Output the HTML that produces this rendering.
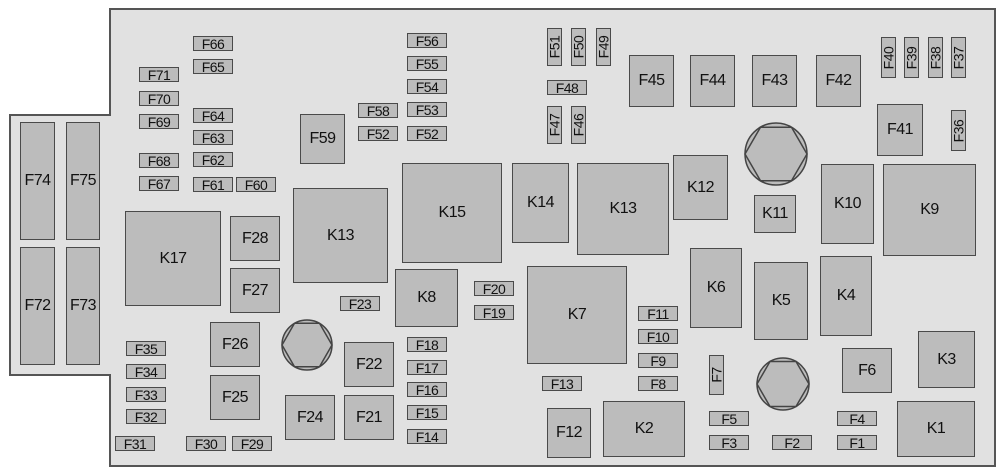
<!DOCTYPE html>
<html><head><meta charset="utf-8"><style>
body{margin:0;width:1000px;height:472px;background:#fff;position:relative;overflow:hidden;font-family:"Liberation Sans",sans-serif}
.p{position:absolute;background:#e1e1e1;border:2px solid #555;box-sizing:border-box}
.b{position:absolute;background:#bcbcbc;border:1.5px solid #4a4a4a;box-sizing:border-box;display:flex;align-items:center;justify-content:center;font-size:16px;color:#111;letter-spacing:-0.5px}
.s{font-size:14px}
.v span{transform:rotate(-90deg);display:block;white-space:nowrap}
svg{position:absolute;left:0;top:0}
</style></head><body>
<div class="p" style="left:9px;top:114px;width:103px;height:262px"></div>
<div class="p" style="left:109px;top:8px;width:887px;height:459px"></div>
<div style="position:absolute;left:109px;top:116px;width:4px;height:258px;background:#e1e1e1"></div>

<div class="b" style="left:20px;top:122px;width:35px;height:118px">F74</div>
<div class="b" style="left:66px;top:122px;width:34px;height:118px">F75</div>
<div class="b" style="left:20px;top:247px;width:35px;height:118px">F72</div>
<div class="b" style="left:66px;top:247px;width:34px;height:118px">F73</div>

<div class="b s" style="left:193px;top:36px;width:40px;height:15px">F66</div>
<div class="b s" style="left:193px;top:59px;width:40px;height:15px">F65</div>
<div class="b s" style="left:139px;top:67px;width:40px;height:15px">F71</div>
<div class="b s" style="left:139px;top:91px;width:40px;height:15px">F70</div>
<div class="b s" style="left:139px;top:114px;width:40px;height:15px">F69</div>
<div class="b s" style="left:193px;top:108px;width:40px;height:15px">F64</div>
<div class="b s" style="left:193px;top:130px;width:40px;height:15px">F63</div>
<div class="b s" style="left:193px;top:152px;width:40px;height:15px">F62</div>
<div class="b s" style="left:139px;top:153px;width:40px;height:15px">F68</div>
<div class="b s" style="left:139px;top:176px;width:40px;height:15px">F67</div>
<div class="b s" style="left:193px;top:177px;width:40px;height:15px">F61</div>
<div class="b s" style="left:236px;top:177px;width:40px;height:15px">F60</div>
<div class="b" style="left:300px;top:114px;width:45px;height:50px">F59</div>
<div class="b" style="left:125px;top:211px;width:96px;height:95px">K17</div>
<div class="b" style="left:230px;top:216px;width:50px;height:45px">F28</div>
<div class="b" style="left:230px;top:268px;width:50px;height:45px">F27</div>
<div class="b" style="left:293px;top:188px;width:95px;height:95px">K13</div>
<div class="b s" style="left:340px;top:296px;width:40px;height:15px">F23</div>
<div class="b s" style="left:358px;top:103px;width:40px;height:15px">F58</div>
<div class="b s" style="left:358px;top:126px;width:40px;height:15px">F52</div>
<div class="b s" style="left:407px;top:33px;width:40px;height:15px">F56</div>
<div class="b s" style="left:407px;top:56px;width:40px;height:15px">F55</div>
<div class="b s" style="left:407px;top:79px;width:40px;height:15px">F54</div>
<div class="b s" style="left:407px;top:102px;width:40px;height:15px">F53</div>
<div class="b s" style="left:407px;top:126px;width:40px;height:15px">F52</div>
<div class="b" style="left:402px;top:163px;width:100px;height:100px">K15</div>
<div class="b" style="left:395px;top:269px;width:63px;height:58px">K8</div>
<div class="b s" style="left:474px;top:281px;width:40px;height:15px">F20</div>
<div class="b s" style="left:474px;top:305px;width:40px;height:15px">F19</div>
<div class="b" style="left:344px;top:342px;width:50px;height:45px">F22</div>
<div class="b" style="left:344px;top:395px;width:50px;height:45px">F21</div>
<div class="b" style="left:285px;top:395px;width:50px;height:45px">F24</div>
<div class="b" style="left:210px;top:322px;width:50px;height:45px">F26</div>
<div class="b" style="left:210px;top:375px;width:50px;height:45px">F25</div>
<div class="b s" style="left:407px;top:337px;width:40px;height:15px">F18</div>
<div class="b s" style="left:407px;top:360px;width:40px;height:15px">F17</div>
<div class="b s" style="left:407px;top:382px;width:40px;height:15px">F16</div>
<div class="b s" style="left:407px;top:405px;width:40px;height:15px">F15</div>
<div class="b s" style="left:407px;top:429px;width:40px;height:15px">F14</div>
<div class="b s" style="left:126px;top:341px;width:40px;height:15px">F35</div>
<div class="b s" style="left:126px;top:364px;width:40px;height:15px">F34</div>
<div class="b s" style="left:126px;top:387px;width:40px;height:15px">F33</div>
<div class="b s" style="left:126px;top:409px;width:40px;height:15px">F32</div>
<div class="b s" style="left:115px;top:436px;width:40px;height:15px">F31</div>
<div class="b s" style="left:186px;top:436px;width:40px;height:15px">F30</div>
<div class="b s" style="left:232px;top:436px;width:40px;height:15px">F29</div>

<div class="b" style="left:512px;top:163px;width:57px;height:80px">K14</div>
<div class="b" style="left:577px;top:163px;width:92px;height:92px">K13</div>
<div class="b" style="left:673px;top:155px;width:55px;height:65px">K12</div>
<div class="b" style="left:754px;top:195px;width:42px;height:38px">K11</div>
<div class="b" style="left:821px;top:164px;width:53px;height:80px">K10</div>
<div class="b" style="left:883px;top:164px;width:93px;height:92px">K9</div>
<div class="b v s" style="left:547px;top:28px;width:15px;height:38px"><span>F51</span></div>
<div class="b v s" style="left:571px;top:28px;width:15px;height:38px"><span>F50</span></div>
<div class="b v s" style="left:596px;top:28px;width:15px;height:38px"><span>F49</span></div>
<div class="b s" style="left:547px;top:80px;width:40px;height:15px">F48</div>
<div class="b v s" style="left:547px;top:106px;width:15px;height:38px"><span>F47</span></div>
<div class="b v s" style="left:571px;top:106px;width:15px;height:38px"><span>F46</span></div>
<div class="b" style="left:629px;top:55px;width:45px;height:52px">F45</div>
<div class="b" style="left:690px;top:55px;width:45px;height:52px">F44</div>
<div class="b" style="left:752px;top:55px;width:45px;height:52px">F43</div>
<div class="b" style="left:816px;top:55px;width:45px;height:52px">F42</div>
<div class="b v s" style="left:881px;top:37px;width:15px;height:41px"><span>F40</span></div>
<div class="b v s" style="left:904px;top:37px;width:15px;height:41px"><span>F39</span></div>
<div class="b v s" style="left:928px;top:37px;width:15px;height:41px"><span>F38</span></div>
<div class="b v s" style="left:951px;top:37px;width:15px;height:41px"><span>F37</span></div>
<div class="b" style="left:877px;top:104px;width:46px;height:52px">F41</div>
<div class="b v s" style="left:951px;top:110px;width:15px;height:41px"><span>F36</span></div>

<div class="b" style="left:527px;top:266px;width:100px;height:98px">K7</div>
<div class="b s" style="left:638px;top:306px;width:40px;height:15px">F11</div>
<div class="b s" style="left:638px;top:329px;width:40px;height:15px">F10</div>
<div class="b s" style="left:638px;top:353px;width:40px;height:15px">F9</div>
<div class="b s" style="left:638px;top:376px;width:40px;height:15px">F8</div>
<div class="b s" style="left:542px;top:376px;width:40px;height:15px">F13</div>
<div class="b" style="left:547px;top:408px;width:44px;height:50px">F12</div>
<div class="b" style="left:603px;top:401px;width:82px;height:56px">K2</div>
<div class="b" style="left:690px;top:248px;width:52px;height:80px">K6</div>
<div class="b" style="left:754px;top:262px;width:54px;height:78px">K5</div>
<div class="b" style="left:820px;top:256px;width:52px;height:80px">K4</div>
<div class="b v s" style="left:709px;top:355px;width:15px;height:40px"><span>F7</span></div>
<div class="b s" style="left:709px;top:411px;width:40px;height:15px">F5</div>
<div class="b s" style="left:709px;top:435px;width:40px;height:15px">F3</div>
<div class="b s" style="left:772px;top:435px;width:40px;height:15px">F2</div>
<div class="b s" style="left:837px;top:411px;width:40px;height:15px">F4</div>
<div class="b s" style="left:837px;top:435px;width:40px;height:15px">F1</div>
<div class="b" style="left:842px;top:348px;width:50px;height:45px">F6</div>
<div class="b" style="left:918px;top:331px;width:57px;height:57px">K3</div>
<div class="b" style="left:897px;top:401px;width:78px;height:56px">K1</div>

<svg width="1000" height="472">
<g fill="#bcbcbc" stroke="#444" stroke-width="1.5">
<circle cx="307" cy="345" r="25"/><polygon points="282,345 294.5,323.3 319.5,323.3 332,345 319.5,366.7 294.5,366.7"/>
<circle cx="776" cy="154" r="31"/><polygon points="745,154 760.5,127.2 791.5,127.2 807,154 791.5,180.8 760.5,180.8"/>
<circle cx="783" cy="384" r="26"/><polygon points="757,384 770,361.5 796,361.5 809,384 796,406.5 770,406.5"/>
</g>
</svg>
</body></html>
